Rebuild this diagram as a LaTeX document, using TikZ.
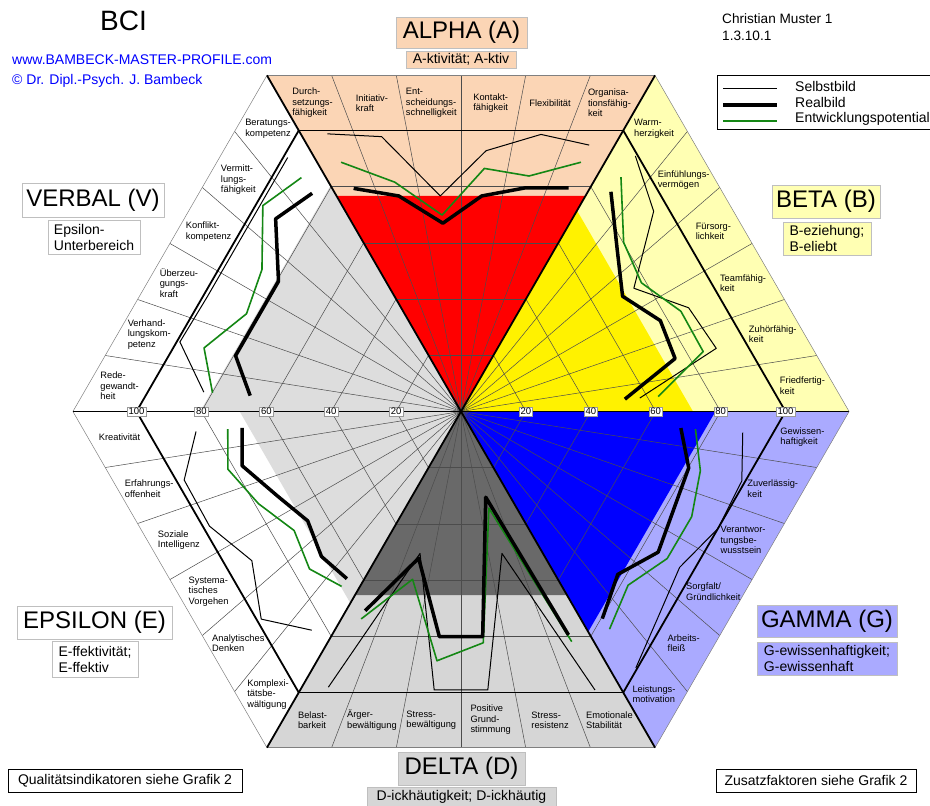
\documentclass[tikz,border=0pt]{standalone}
\usepackage{fontspec}
\setmainfont{Liberation Sans}
\usetikzlibrary{calc}

\definecolor{alphabg}{RGB}{251,213,181}
\definecolor{betabg}{RGB}{255,255,179}
\definecolor{gammabg}{RGB}{170,170,255}
\definecolor{deltabg}{RGB}{214,214,214}
\definecolor{deltadark}{RGB}{105,105,105}
\definecolor{hellgrau}{RGB}{221,221,221}
\definecolor{gruen}{RGB}{20,135,20}

% point on the midline of sub-field #3 of a sector from angle #1 to #2, value #4
\pgfmathdeclarefunction{hx}{4}{\pgfmathparse{#4*((1-(#3+0.5)/6)*cos(#1)+(#3+0.5)/6*cos(#2))}}
\pgfmathdeclarefunction{hy}{4}{\pgfmathparse{#4*((1-(#3+0.5)/6)*sin(#1)+(#3+0.5)/6*sin(#2))}}

\newcommand{\profil}[4]{%
  \foreach \w [count=\k from 0] in {#4}
    \coordinate (p\k) at ({hx(#2,#3,\k,\w)},{hy(#2,#3,\k,\w)});
  \draw[#1] (p0) -- (p1) -- (p2) -- (p3) -- (p4) -- (p5);}

\begin{document}
\begin{tikzpicture}[x=1pt,y=-1pt,
  gitter/.style={black!70,line width=0.5pt},
  hundert/.style={black,line width=1.8pt},
  speiche/.style={black,line width=1.8pt},
  aussen/.style={black!50,line width=0.5pt},
  skala/.style={fill=white,draw=black!40,line width=0.4pt,inner xsep=1.5pt,inner ysep=1pt,font=\fontsize{9.5}{9.5}\selectfont},
  bandtxt/.style={align=left,inner sep=0pt,font=\fontsize{9.3}{10.5}\selectfont},
  selbst/.style={black,line width=1pt,line join=round},
  real/.style={black,line width=3.5pt,line join=round},
  entw/.style={gruen,line width=1.6pt,line join=round},
  titel/.style={draw=black!25,line width=0.5pt,inner sep=2pt,font=\fontsize{24}{24}\selectfont},
  untertitel/.style={draw=black!25,line width=0.5pt,inner sep=2pt,align=left,font=\fontsize{14}{16}\selectfont},
  infobox/.style={draw=black,line width=0.8pt,inner sep=2pt,font=\fontsize{14}{14}\selectfont}]
\useasboundingbox (0,0) rectangle (930,806);

\begin{scope}[shift={(461,411.5)},x=3.245pt,y=3.245pt]
% sectors
\foreach \a/\b/\f in {60/120/alphabg,0/60/betabg,-60/0/gammabg,240/300/deltabg,180/240/white,120/180/white}
  \fill[\f] (0,0) -- (\a:119.6) -- (\b:119.6) -- cycle;
\foreach \a/\b/\v/\f in {60/120/76.7/red,0/60/71.5/yellow,-60/0/78.4/blue,240/300/65.3/deltadark,180/240/68.2/hellgrau,120/180/80.4/hellgrau}
  \fill[\f] (0,0) -- (\a:\v) -- (\b:\v) -- cycle;

% grid
\foreach \a in {0,60,...,300}{
  \foreach \v in {20,40,60,80}
    \draw[gitter] (\a:\v) -- (\a+60:\v);
  \foreach \k in {1,...,5}
    \draw[gitter] (0,0) -- ($(\a:119.6)!\k/6!(\a+60:119.6)$);
}
\foreach \a in {0,60,...,300}{
  \draw[aussen] (\a:119.6) -- (\a+60:119.6);
  \draw[hundert] (\a:100) -- (\a+60:100);
  \draw[speiche] (0,0) -- (\a:119.6);
}

% scale
\foreach \v in {20,40,...,100}{
  \node[skala] at (\v,0) {\v};
  \node[skala] at (-\v,0) {\v};
}

% labels of the sub-fields
\foreach \txt [count=\k from 0] in {{Durch-\\setzungs-\\fähigkeit},{Initiativ-\\kraft},{Ent-\\scheidungs-\\schnelligkeit},{Kontakt-\\fähigkeit},{Flexibilität},{Organisa-\\tionsfähig-\\keit}}
  \node[bandtxt] at ({hx(120,60,\k,109.8)},{hy(120,60,\k,109.8)}) {\txt};
\foreach \txt [count=\k from 0] in {{Warm-\\herzigkeit},{Einfühlungs-\\vermögen},{Fürsorg-\\lichkeit},{Teamfähig-\\keit},{Zuhörfähig-\\keit},{Friedfertig-\\keit}}
  \node[bandtxt] at ({hx(60,0,\k,109.8)},{hy(60,0,\k,109.8)}) {\txt};
\foreach \txt [count=\k from 0] in {{Gewissen-\\haftigkeit},{Zuverlässig-\\keit},{Verantwor-\\tungsbe-\\wusstsein},{Sorgfalt/\\Gründlichkeit},{Arbeits-\\fleiß},{Leistungs-\\motivation}}
  \node[bandtxt] at ({hx(0,-60,\k,109.8)},{hy(0,-60,\k,109.8)}) {\txt};
\foreach \txt [count=\k from 0] in {{Belast-\\barkeit},{Ärger-\\bewältigung},{Stress-\\bewältigung},{Positive\\Grund-\\stimmung},{Stress-\\resistenz},{Emotionale\\Stabilität}}
  \node[bandtxt] at ({hx(240,300,\k,109.8)},{hy(240,300,\k,109.8)}) {\txt};
\foreach \txt [count=\k from 0] in {{Kreativität},{Erfahrungs-\\offenheit},{Soziale\\Intelligenz},{Systema-\\tisches\\Vorgehen},{Analytisches\\Denken},{Komplexi-\\tätsbe-\\wältigung}}
  \node[bandtxt] at ({hx(180,240,\k,109.8)},{hy(180,240,\k,109.8)}) {\txt};
\foreach \txt [count=\k from 0] in {{Beratungs-\\kompetenz},{Vermitt-\\lungs-\\fähigkeit},{Konflikt-\\kompetenz},{Überzeu-\\gungs-\\kraft},{Verhand-\\lungskom-\\petenz},{Rede-\\gewandt-\\heit}}
  \node[bandtxt] at ({hx(120,180,\k,109.8)},{hy(120,180,\k,109.8)}) {\txt};

% profiles
\profil{selbst}{120}{60}{98.8,97.8,76.7,92.8,98.6,94.8}
\profil{entw}{120}{60}{88.7,81.6,69.9,86.5,83.8,88.7}
\profil{real}{120}{60}{79.4,76.7,67,76.7,79.6,79.6}

\profil{selbst}{60}{0}{99.2,95,75.2,88.6,89.9,57.5}
\profil{entw}{60}{0}{91,80.2,78.5,85.6,85.3,63.4}
\profil{real}{60}{0}{85.3,77,70.3,77.6,75.4,52.7}

\profil{selbst}{0}{-60}{90.6,98.9,100,95.1,97.3,99.5}
\profil{entw}{0}{-60}{75.4,84.3,89.8,89.7,82.4,84.5}
\profil{real}{0}{-60}{70.7,80.2,82.9,85.8,77.3,80.4}

\profil{selbst}{240}{300}{98.1,50.5,99.1,99.1,50.5,99.1}
\profil{entw}{240}{300}{73.8,59.7,88.7,82.3,34.4,81.9}
\profil{real}{240}{300}{70.9,52.2,80.1,80.1,30.5,79.5}

\profil{selbst}{180}{240}{85.2,97.5,97.9,91,98.5,84.9}
\profil{entw}{180}{240}{75,82.1,78.8,72.6,74.7,67.9}
\profil{real}{180}{240}{70.4,77.1,71.7,66.7,68.8,64.9}

\profil{selbst}{120}{180}{98.6,98.6,98.6,98.6,99,82.7}
\profil{entw}{120}{180}{90.8,97.7,86.6,83.5,90.5,79.9}
\profil{real}{120}{180}{84.7,91.4,79.4,79.4,79.4,67.8}
\end{scope}

% sector titles
\node[titel,fill=alphabg,minimum width=131pt,minimum height=31pt] (alpha) at (461.5,32.5) {ALPHA (A)};
\node[untertitel,fill=alphabg,minimum width=110pt,minimum height=17pt] (alphaU) at (461,59.5) {A-ktivität; A-ktiv};
\node[titel,fill=betabg,minimum width=108pt,minimum height=33pt] (beta) at (826,201.5) {BETA (B)};
\node[untertitel,fill=betabg,minimum width=88pt,minimum height=33pt] (betaU) at (827,238.5) {B-eziehung;\\B-eliebt};
\node[titel,fill=gammabg,minimum width=140pt,minimum height=32pt] (gamma) at (827,621) {GAMMA (G)};
\node[untertitel,fill=gammabg,minimum width=140pt,minimum height=33pt] (gammaU) at (827,658.5) {G-ewissenhaftigkeit;\\G-ewissenhaft};
\node[titel,fill=deltabg,minimum width=127pt,minimum height=33pt] (delta) at (461.5,768.5) {DELTA (D)};
\node[untertitel,fill=deltabg,minimum width=189pt,minimum height=19pt] (deltaU) at (461.5,796.5) {D-ickhäutigkeit; D-ickhäutig};
\node[titel,fill=white,minimum width=155pt,minimum height=33pt] (epsilon) at (94.5,622.5) {EPSILON (E)};
\node[untertitel,fill=white,minimum width=86pt,minimum height=36pt] (epsilonU) at (95,659) {E-ffektivität;\\E-ffektiv};
\node[titel,fill=white,minimum width=142pt,minimum height=34pt] (verbal) at (93,200) {VERBAL (V)};
\node[untertitel,fill=white,minimum width=92pt,minimum height=34pt] (verbalU) at (94,237) {Epsilon-\\Unterbereich};

% header
\node[font=\fontsize{28}{28}\selectfont] (bci) at (123.5,21) {BCI};
\node[anchor=base west,text=blue,inner sep=0pt,font=\fontsize{14}{14}\selectfont] (web) at (12,64) {www.BAMBECK-MASTER-PROFILE.com};
\node[anchor=base west,text=blue,inner sep=0pt,font=\fontsize{14}{14}\selectfont] (copy) at (12,84.5) {© Dr. Dipl.-Psych. J. Bambeck};
\node[anchor=base west,inner sep=0pt,font=\fontsize{13.6}{13.6}\selectfont] (name) at (722,23.3) {Christian Muster 1};
\node[anchor=base west,inner sep=0pt,font=\fontsize{13.6}{13.6}\selectfont] (nummer) at (722,40.7) {1.3.10.1};

% legend
\draw[black,line width=1.5pt] (717.5,75.5) rectangle (940,129.5);
\draw[selbst] (723,88.3) -- (777,88.3);
\draw[real] (723,105) -- (777,105);
\draw[entw] (723,120.7) -- (777,120.7);
\node[anchor=base west,inner sep=0pt,font=\fontsize{14}{14}\selectfont] (lgA) at (795,91) {Selbstbild};
\node[anchor=base west,inner sep=0pt,font=\fontsize{14}{14}\selectfont] (lgB) at (795,107) {Realbild};
\node[anchor=base west,inner sep=0pt,font=\fontsize{14}{14}\selectfont] (lgC) at (795,122.5) {Entwicklungspotential};

% footer
\node[infobox,minimum width=234pt,minimum height=23pt] (quali) at (125,780.5) {Qualitätsindikatoren siehe Grafik 2};
\node[infobox,minimum width=200pt,minimum height=23pt] (zusatz) at (816,780.5) {Zusatzfaktoren siehe Grafik 2};
\end{tikzpicture}
\end{document}
